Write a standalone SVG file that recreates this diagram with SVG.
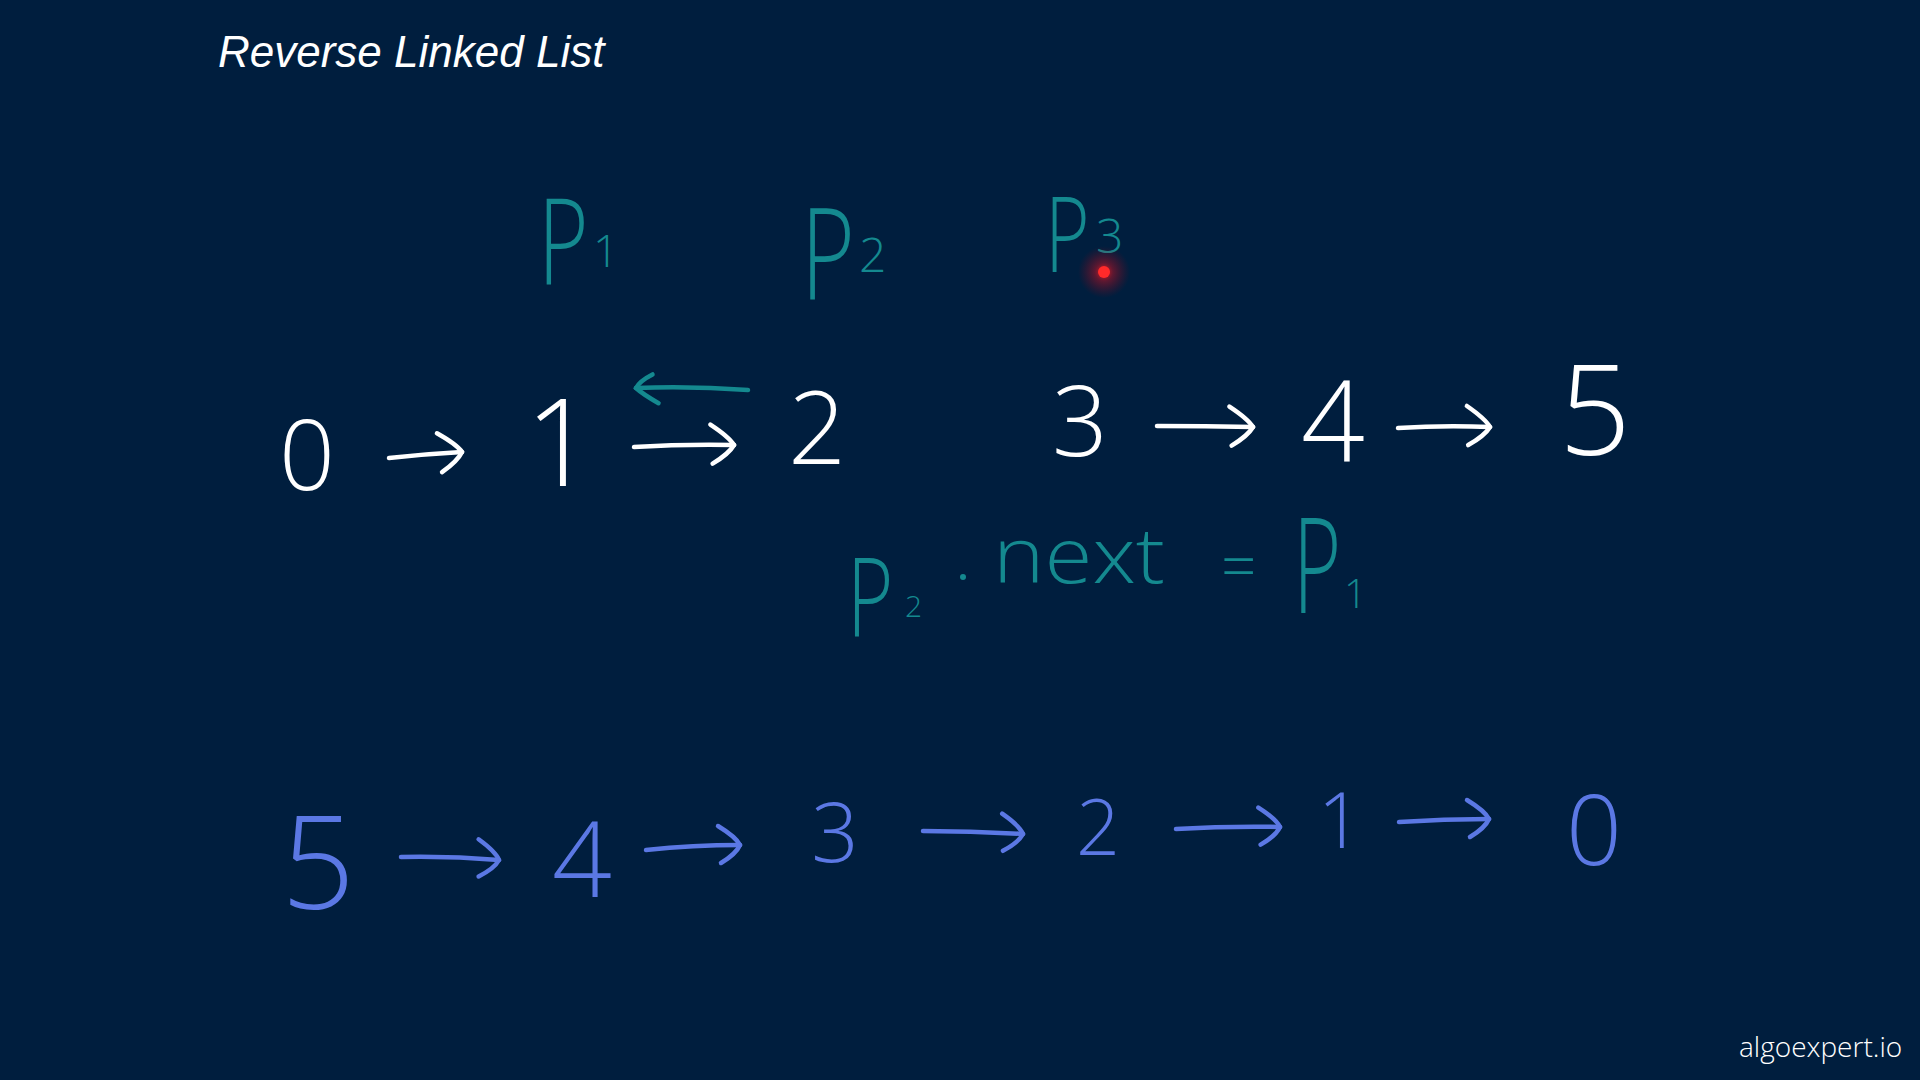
<svg xmlns="http://www.w3.org/2000/svg" width="1920" height="1080" viewBox="0 0 1920 1080">
<style>
.bg{fill:#001e3e}
.w{fill:#ffffff;font-family:"Open Sans","Liberation Sans",sans-serif;font-weight:300;text-anchor:middle}
.b{fill:#5b78e4;font-family:"Open Sans","Liberation Sans",sans-serif;font-weight:300;text-anchor:middle}
.t{fill:#14898f;font-family:"Open Sans","Liberation Sans",sans-serif;font-weight:300}
.cw{fill:none;stroke:#ffffff;stroke-width:4.5;stroke-linecap:round}
.cb{fill:none;stroke:#5b78e4;stroke-width:4.5;stroke-linecap:round}
.ct{fill:none;stroke:#14898f;stroke-width:4.5;stroke-linecap:round}
.title{fill:#ffffff;font-family:"Liberation Sans",Arial,sans-serif;font-style:italic;font-size:44px}
.mark{fill:#ffffff;font-family:"Open Sans","Liberation Sans",sans-serif;font-weight:300;font-size:28px}
</style>
<defs>
<marker id="hw" viewBox="-30 -26 34 52" markerWidth="34" markerHeight="52" refX="0" refY="0" orient="auto" markerUnits="userSpaceOnUse" overflow="visible">
<path d="M-24,-20 Q-5,-8 0,0 Q-5,9 -21,19" fill="none" stroke="#ffffff" stroke-width="4.5" stroke-linecap="round"/>
</marker>
<marker id="hb" viewBox="-30 -26 34 52" markerWidth="34" markerHeight="52" refX="0" refY="0" orient="auto" markerUnits="userSpaceOnUse" overflow="visible">
<path d="M-22,-19 Q-4,-8 0,0 Q-4,9 -19,18" fill="none" stroke="#5b78e4" stroke-width="4.5" stroke-linecap="round"/>
</marker>
<marker id="ht" viewBox="-30 -26 34 52" markerWidth="34" markerHeight="52" refX="0" refY="0" orient="auto" markerUnits="userSpaceOnUse" overflow="visible">
<path d="M-22,-16 Q-6,-6 0,0 Q-4,7 -17,13" fill="none" stroke="#14898f" stroke-width="4.5" stroke-linecap="round"/>
</marker>
<radialGradient id="glow">
<stop offset="0" stop-color="#ff2020" stop-opacity="0.9"/>
<stop offset="0.35" stop-color="#d01020" stop-opacity="0.45"/>
<stop offset="1" stop-color="#a00010" stop-opacity="0"/>
</radialGradient>
</defs>
<rect class="bg" x="0" y="0" width="1920" height="1080"/>
<text class="title" x="218" y="67">Reverse Linked List</text>

<g id="connectors">
<path class="cw" d="M389,458 Q425,454 462,452" marker-end="url(#hw)"/>
<path class="cw" d="M634,447 Q684,444 734,445" marker-end="url(#hw)"/>
<path class="cw" d="M1157,426 Q1205,426 1253,427" marker-end="url(#hw)"/>
<path class="cw" d="M1398,428 Q1444,425 1490,427" marker-end="url(#hw)"/>
<path class="ct" d="M748,390 Q692,386 636,388" marker-end="url(#ht)"/>
<path class="cb" d="M401,857 Q450,856 499,860" marker-end="url(#hb)"/>
<path class="cb" d="M646,850 Q693,845 740,845" marker-end="url(#hb)"/>
<path class="cb" d="M923,831 Q973,831 1023,834" marker-end="url(#hb)"/>
<path class="cb" d="M1176,829 Q1228,826 1280,827" marker-end="url(#hb)"/>
<path class="cb" d="M1399,822 Q1444,819 1489,819" marker-end="url(#hb)"/>
</g>

<g id="top-0"><text class="w" x="307" y="490" font-size="98">0</text></g>
<g id="top-1"><text class="w" x="560" y="486" font-size="122">1</text></g>
<g id="top-2"><text class="w" x="817" y="464" font-size="102">2</text></g>
<g id="top-3"><text class="w" x="1080" y="456" font-size="98">3</text></g>
<g id="top-4"><text class="w" x="1333" y="462" font-size="112">4</text></g>
<g id="top-5"><text class="w" x="1595" y="455" font-size="126">5</text></g>

<g id="label-p1"><text class="t" transform="translate(538,284) scale(0.72,1)" font-size="120">P</text><text class="t" x="593" y="267" font-size="45">1</text></g>
<g id="label-p2"><text class="t" transform="translate(801,300) scale(0.72,1)" font-size="128">P</text><text class="t" x="859" y="272" font-size="48">2</text></g>
<g id="label-p3"><text class="t" transform="translate(1045,272) scale(0.72,1)" font-size="106">P</text><text class="t" x="1096" y="253" font-size="48">3</text></g>

<g id="pointer">
<circle cx="1104" cy="272" r="26" fill="url(#glow)"/>
<circle cx="1104" cy="272" r="6" fill="#ff2a2a"/>
</g>

<g id="assign">
<text class="t" transform="translate(847,637) scale(0.72,1)" font-size="110">P</text>
<text class="t" x="905" y="617" font-size="30">2</text>
<circle cx="963" cy="577" r="3" fill="#14898f"/>
<text class="t" x="993" y="583" font-size="78" textLength="172" lengthAdjust="spacingAndGlyphs">next</text>
<text class="t" x="1221" y="588" font-size="62">=</text>
<text class="t" transform="translate(1293,613) scale(0.62,1)" font-size="133">P</text>
<text class="t" x="1344" y="608" font-size="40">1</text>
</g>

<g id="bot-5"><text class="b" x="318" y="909" font-size="129">5</text></g>
<g id="bot-4"><text class="b" x="582" y="897" font-size="105">4</text></g>
<g id="bot-3"><text class="b" x="835" y="862" font-size="83">3</text></g>
<g id="bot-2"><text class="b" x="1098" y="855" font-size="77">2</text></g>
<g id="bot-1"><text class="b" x="1340" y="848" font-size="78">1</text></g>
<g id="bot-0"><text class="b" x="1594" y="865" font-size="98">0</text></g>

<text class="mark" x="1739" y="1057">algoexpert.io</text>
</svg>
